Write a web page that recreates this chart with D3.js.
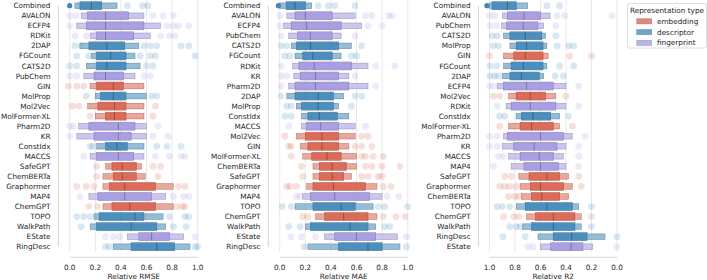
<!DOCTYPE html>
<html><head><meta charset="utf-8">
<script src="https://cdn.jsdelivr.net/npm/d3@7"></script>
<style>body{margin:0;background:#fff}svg{display:block;font-family:"DejaVu Sans",sans-serif}</style>
</head><body>
<script>
// ---------- data ----------
const categoryType = {Combined:"descriptor",AVALON:"fingerprint",ECFP4:"fingerprint",RDKit:"fingerprint","2DAP":"descriptor",FGCount:"descriptor",CATS2D:"descriptor",PubChem:"fingerprint",GIN:"embedding",MolProp:"descriptor",Mol2Vec:"embedding","MolFormer-XL":"embedding",Pharm2D:"fingerprint",KR:"fingerprint",ConstIdx:"descriptor",MACCS:"fingerprint",SafeGPT:"embedding",ChemBERTa:"embedding",Graphormer:"embedding",MAP4:"fingerprint",ChemGPT:"embedding",TOPO:"descriptor",WalkPath:"descriptor",EState:"fingerprint",RingDesc:"descriptor"};
const legendTypes = ["embedding","descriptor","fingerprint"];
const xTicks = [0,0.2,0.4,0.6,0.8,1.0];

// box stats per row: [q1, median, q3, lowExt, highExt]
const rmseOrder = ["Combined","AVALON","ECFP4","RDKit","2DAP","FGCount","CATS2D","PubChem","GIN","MolProp","Mol2Vec","MolFormer-XL","Pharm2D","KR","ConstIdx","MACCS","SafeGPT","ChemBERTa","Graphormer","MAP4","ChemGPT","TOPO","WalkPath","EState","RingDesc"];
const rmseBox = [[0.08,0.17,0.25,0.04,0.37],[0.14,0.28,0.46,0.09,0.58],[0.13,0.28,0.58,0.055,0.71],[0.21,0.28,0.5,0.16,0.63],[0.15,0.29,0.43,0.08,0.54],[0.21,0.32,0.44,0.17,0.51],[0.21,0.29,0.44,0.13,0.55],[0.19,0.28,0.42,0.11,0.51],[0.21,0.34,0.42,0.16,0.58],[0.24,0.34,0.44,0.2,0.6],[0.22,0.35,0.44,0.14,0.58],[0.28,0.35,0.44,0.2,0.58],[0.15,0.38,0.51,0.07,0.6],[0.19,0.38,0.48,0.055,0.6],[0.28,0.37,0.45,0.21,0.58],[0.21,0.38,0.5,0.16,0.58],[0.33,0.41,0.52,0.28,0.56],[0.34,0.41,0.52,0.26,0.59],[0.31,0.43,0.67,0.26,0.81],[0.22,0.43,0.64,0.15,0.75],[0.33,0.47,0.67,0.26,0.81],[0.23,0.51,0.58,0.19,0.73],[0.21,0.48,0.68,0.16,0.75],[0.54,0.64,0.78,0.45,0.89],[0.48,0.68,0.82,0.34,0.94]];
const rmseDots = [[0.45,0.57,0.61],[0.0,0.05,0.65,0.73,0.81],[0.0,0.76,0.81,0.85,0.93],[0.04,0.13,0.71,0.78,0.82],[0.04,0.09,0.58,0.63,0.68,0.87,0.93],[0.055,0.15,0.55,0.63,0.67,0.98],[0.0,0.055,0.6,0.65],[0.0,0.055,0.58,0.63],[-0.01,0.055,0.11],[0.13,0.64,0.68],[0.02,0.07,0.67],[0.16,0.65],[0.0,0.03,0.69],[0.0,0.65,0.77],[0.16,0.18,0.68,0.76,0.87],[0.11,0.67,0.78,0.87,0.9],[0.21,0.65,0.71],[0.21,0.69],[0.055,0.13,0.19,0.85,0.9],[0.08,0.81,0.89,0.93],[0.15,0.22,0.84,0.88,0.9],[0.055,0.11,0.16,0.78,0.9,0.93],[0.09,0.81,0.91],[0.28,0.34,0.39,0.98],[0.28,0.31,0.98,1.0]];
const rmseOutliers = [["Combined",0.0]];

const maeOrder = ["Combined","AVALON","ECFP4","PubChem","CATS2D","FGCount","RDKit","KR","Pharm2D","2DAP","MolProp","ConstIdx","MACCS","Mol2Vec","GIN","MolFormer-XL","ChemBERTa","SafeGPT","Graphormer","MAP4","TOPO","ChemGPT","WalkPath","EState","RingDesc"];
const maeBox = [[0.05,0.12,0.2,0.0,0.25],[0.12,0.2,0.41,0.055,0.59],[0.09,0.21,0.48,0.03,0.64],[0.14,0.24,0.41,0.07,0.48],[0.13,0.24,0.46,0.09,0.56],[0.18,0.26,0.41,0.12,0.48],[0.15,0.27,0.56,0.1,0.69],[0.16,0.28,0.46,0.11,0.54],[0.12,0.28,0.54,0.07,0.69],[0.12,0.3,0.42,0.055,0.5],[0.17,0.3,0.42,0.13,0.46],[0.22,0.31,0.45,0.17,0.54],[0.21,0.32,0.46,0.17,0.59],[0.2,0.33,0.46,0.13,0.59],[0.22,0.33,0.46,0.16,0.54],[0.25,0.37,0.48,0.18,0.6],[0.31,0.41,0.52,0.26,0.6],[0.31,0.41,0.5,0.26,0.56],[0.26,0.42,0.67,0.21,0.76],[0.24,0.43,0.7,0.18,0.8],[0.26,0.48,0.59,0.12,0.73],[0.35,0.5,0.69,0.28,0.76],[0.24,0.55,0.69,0.2,0.75],[0.43,0.6,0.75,0.35,0.92],[0.46,0.69,0.8,0.22,0.94]];
const maeDots = [[0.3,0.38,0.43,0.59],[0.0,0.67,0.72,0.85,0.88],[0.0,0.69,0.8],[0.01,0.59],[0.01,0.055,0.64],[0.04,0.08,0.56,0.6],[0.01,0.75,0.9],[0.01,0.055,0.59],[0.01,0.75],[0.01,0.59,0.64],[0.055,0.09,0.56],[0.04,0.09],[0.07,0.67],[0.04,0.64,0.69],[0.07,0.09,0.59,0.64,0.72],[0.09,0.64,0.67,0.73,0.81],[0.17,0.67,0.72,0.8,0.94],[0.18,0.64,0.69,0.77,0.8],[0.055,0.08,0.13,0.81,0.87],[0.13,0.16,0.84,0.93],[0.02,0.09,0.77,0.82,1.0],[0.18,0.22,0.81,0.91,0.98],[0.07,0.16,0.82,0.86],[0.09,0.17,0.28,0.99],[0.19,0.99]];
const maeOutliers = [["Combined",-0.01]];

const r2Order = ["Combined","AVALON","PubChem","CATS2D","MolProp","GIN","FGCount","2DAP","ECFP4","Mol2Vec","RDKit","ConstIdx","MolFormer-XL","Pharm2D","KR","MACCS","MAP4","SafeGPT","Graphormer","ChemBERTa","TOPO","ChemGPT","WalkPath","RingDesc","EState"];
const r2Box = [[0.79,0.86,0.98,0.7,1.0],[0.6,0.73,0.86,0.525,0.9],[0.62,0.735,0.865,0.575,0.905],[0.59,0.72,0.84,0.56,0.89],[0.58,0.71,0.79,0.55,0.84],[0.58,0.72,0.81,0.54,0.89],[0.58,0.735,0.83,0.55,0.89],[0.61,0.75,0.84,0.575,0.9],[0.5,0.71,0.89,0.4,0.94],[0.56,0.68,0.79,0.48,0.85],[0.48,0.68,0.83,0.4,0.87],[0.52,0.66,0.75,0.45,0.79],[0.5,0.67,0.76,0.45,0.85],[0.42,0.6,0.86,0.35,0.89],[0.47,0.65,0.81,0.4,0.9],[0.5,0.61,0.76,0.42,0.85],[0.46,0.6,0.73,0.4,0.83],[0.45,0.55,0.69,0.38,0.77],[0.42,0.6,0.68,0.35,0.76],[0.45,0.59,0.67,0.38,0.75],[0.35,0.55,0.72,0.3,0.79],[0.33,0.5,0.64,0.28,0.71],[0.33,0.5,0.67,0.28,0.74],[0.235,0.355,0.5,0.094,0.62],[0.267,0.36,0.52,0.19,0.6]];
const r2Dots = [[0.55,0.45],[1.0,0.96,0.47,0.41,0.04],[0.996,0.944,0.48],[0.98,0.94,0.48],[0.97,0.93,0.47,0.38,0.34],[1.0,0.37,0.2],[0.996,0.944,0.45,0.34],[0.996,0.96,0.93,0.485,0.42],[1.0,0.97,0.3],[0.97,0.92,0.4],[0.94,0.3],[0.92,0.88,0.38],[0.92,0.35],[1.0,0.94,0.25],[1.0,0.94,0.3],[0.93,0.89,0.3],[0.97,0.3],[0.88,0.83,0.3],[0.92,0.88,0.84,0.79,0.28],[0.85,0.8,0.77],[0.94,0.9,0.84,0.2],[0.89,0.81,0.77,0.2],[0.84,0.79,0.76,0.2],[0.894,0.72,0.0],[0.7,0.66,0.0]];
const r2Outliers = [["Combined",1.02]];

// ---------- drawing ----------
const W = 707, H = 280;
const colors = {embedding:"#d9604c", descriptor:"#3f87b8", fingerprint:"#a398e0"};
const textColor = "#262626";
const svg = d3.select("body").append("svg").attr("width", W).attr("height", H);

const panels = [
  {order:rmseOrder, box:rmseBox, dots:rmseDots, out:rmseOutliers, range:[69.7,197.7], spine:58.3, label:"Relative RMSE"},
  {order:maeOrder, box:maeBox, dots:maeDots, out:maeOutliers, range:[279.7,407.7], spine:268.3, label:"Relative MAE"},
  {order:r2Order, box:r2Box, dots:r2Dots, out:r2Outliers, range:[617,489.5], spine:478.5, label:"Relative R2"}
];

const fontSize = 7.3;

panels.forEach(p => {
  const x = d3.scaleLinear().domain([0,1]).range(p.range);
  const y = d3.scalePoint().domain(p.order).range([5.7, 246.7]);
  const g = svg.append("g");
  g.selectAll("line.grid").data(xTicks).join("line")
    .attr("x1", d => x(d)).attr("x2", d => x(d)).attr("y1", 0).attr("y2", 252)
    .attr("stroke", "#e3e3e3").attr("stroke-width", 0.8);
  g.append("line").attr("x1", p.spine).attr("x2", p.spine).attr("y1", y(p.order[0])).attr("y2", y(p.order[p.order.length-1]))
    .attr("stroke", "#cccccc").attr("stroke-width", 0.8);
  const xr = [x(0), x(1)].sort((a,b)=>a-b);
  g.append("line").attr("x1", xr[0]).attr("x2", xr[1]).attr("y1", 257.3).attr("y2", 257.3)
    .attr("stroke", "#cccccc").attr("stroke-width", 0.8);
  g.selectAll("text.tick").data(xTicks).join("text")
    .attr("x", d => x(d)).attr("y", 267.3).attr("dy", "0.35em").attr("text-anchor", "middle")
    .attr("font-size", fontSize).attr("fill", textColor).text(d => d.toFixed(1));
  g.append("text").attr("x", (p.range[0]+p.range[1])/2).attr("y", 276.7).attr("dy","0.35em")
    .attr("text-anchor","middle").attr("font-size", fontSize).attr("fill",textColor).text(p.label);
  g.selectAll("text.cat").data(p.order).join("text")
    .attr("x", p.spine - 7.8).attr("y", d => y(d)).attr("dy", "0.35em").attr("text-anchor", "end")
    .attr("font-size", fontSize).attr("fill", textColor).text(d => d);

  p.order.forEach((cat, i) => {
    const c = colors[categoryType[cat]];
    g.selectAll(null).data(p.dots[i]).join("circle")
      .attr("cx", d => x(d)).attr("cy", y(cat)).attr("r", 3.4)
      .attr("fill", c).attr("fill-opacity", 0.2);
  });
  p.order.forEach((cat, i) => {
    const t = categoryType[cat];
    const c = d3.color(colors[t]);
    const edge = c.darker(0.9);
    const [q1, med, q3, lo, hi] = p.box[i];
    const cy = y(cat);
    const outer = d3.interpolateRgb(c, "#ffffff")(0.35);
    const hOuter = 5.6, hInner = 8.0;
    const a = Math.min(x(lo), x(hi)), b = Math.max(x(lo), x(hi));
    g.append("rect").attr("x", a).attr("y", cy - hOuter/2).attr("width", b - a).attr("height", hOuter)
      .attr("fill", outer).attr("fill-opacity", 0.85).attr("stroke", edge).attr("stroke-opacity", 0.6).attr("stroke-width", 0.6);
    const a1 = Math.min(x(q1), x(q3)), b1 = Math.max(x(q1), x(q3));
    g.append("rect").attr("x", a1).attr("y", cy - hInner/2).attr("width", b1 - a1).attr("height", hInner)
      .attr("fill", c.formatHex()).attr("fill-opacity", 0.85).attr("stroke", edge).attr("stroke-opacity", 0.7).attr("stroke-width", 0.6);
    g.append("line").attr("x1", x(med)).attr("x2", x(med)).attr("y1", cy - hInner/2).attr("y2", cy + hInner/2)
      .attr("stroke", edge).attr("stroke-width", 0.9);
  });
  g.selectAll(null).data(p.out).join("circle")
    .attr("cx", d => x(d[1])).attr("cy", d => y(d[0])).attr("r", 2.6)
    .attr("fill", d => colors[categoryType[d[0]]]);
});

const lg = svg.append("g");
lg.append("rect").attr("x", 627.5).attr("y", 3.5).attr("width", 79).attr("height", 44.5).attr("rx", 2)
  .attr("fill", "#fff").attr("fill-opacity", 0.85).attr("stroke", "#d6d6d6").attr("stroke-width", 0.8);
lg.append("text").attr("x", 667).attr("y", 10.3).attr("dy", "0.35em").attr("text-anchor", "middle")
  .attr("font-size", fontSize).attr("fill", textColor).text("Representation type");
legendTypes.forEach((t, i) => {
  const yy = 21.3 + i * 10.8;
  lg.append("rect").attr("x", 636.7).attr("y", yy - 2.6).attr("width", 15).attr("height", 5.2)
    .attr("fill", colors[t]).attr("fill-opacity", 0.75).attr("stroke", d3.color(colors[t]).darker(0.9)).attr("stroke-opacity",0.5).attr("stroke-width", 0.6);
  lg.append("text").attr("x", 657).attr("y", yy).attr("dy", "0.35em").attr("font-size", fontSize).attr("fill", textColor).text(t);
});
</script>
</body></html>
